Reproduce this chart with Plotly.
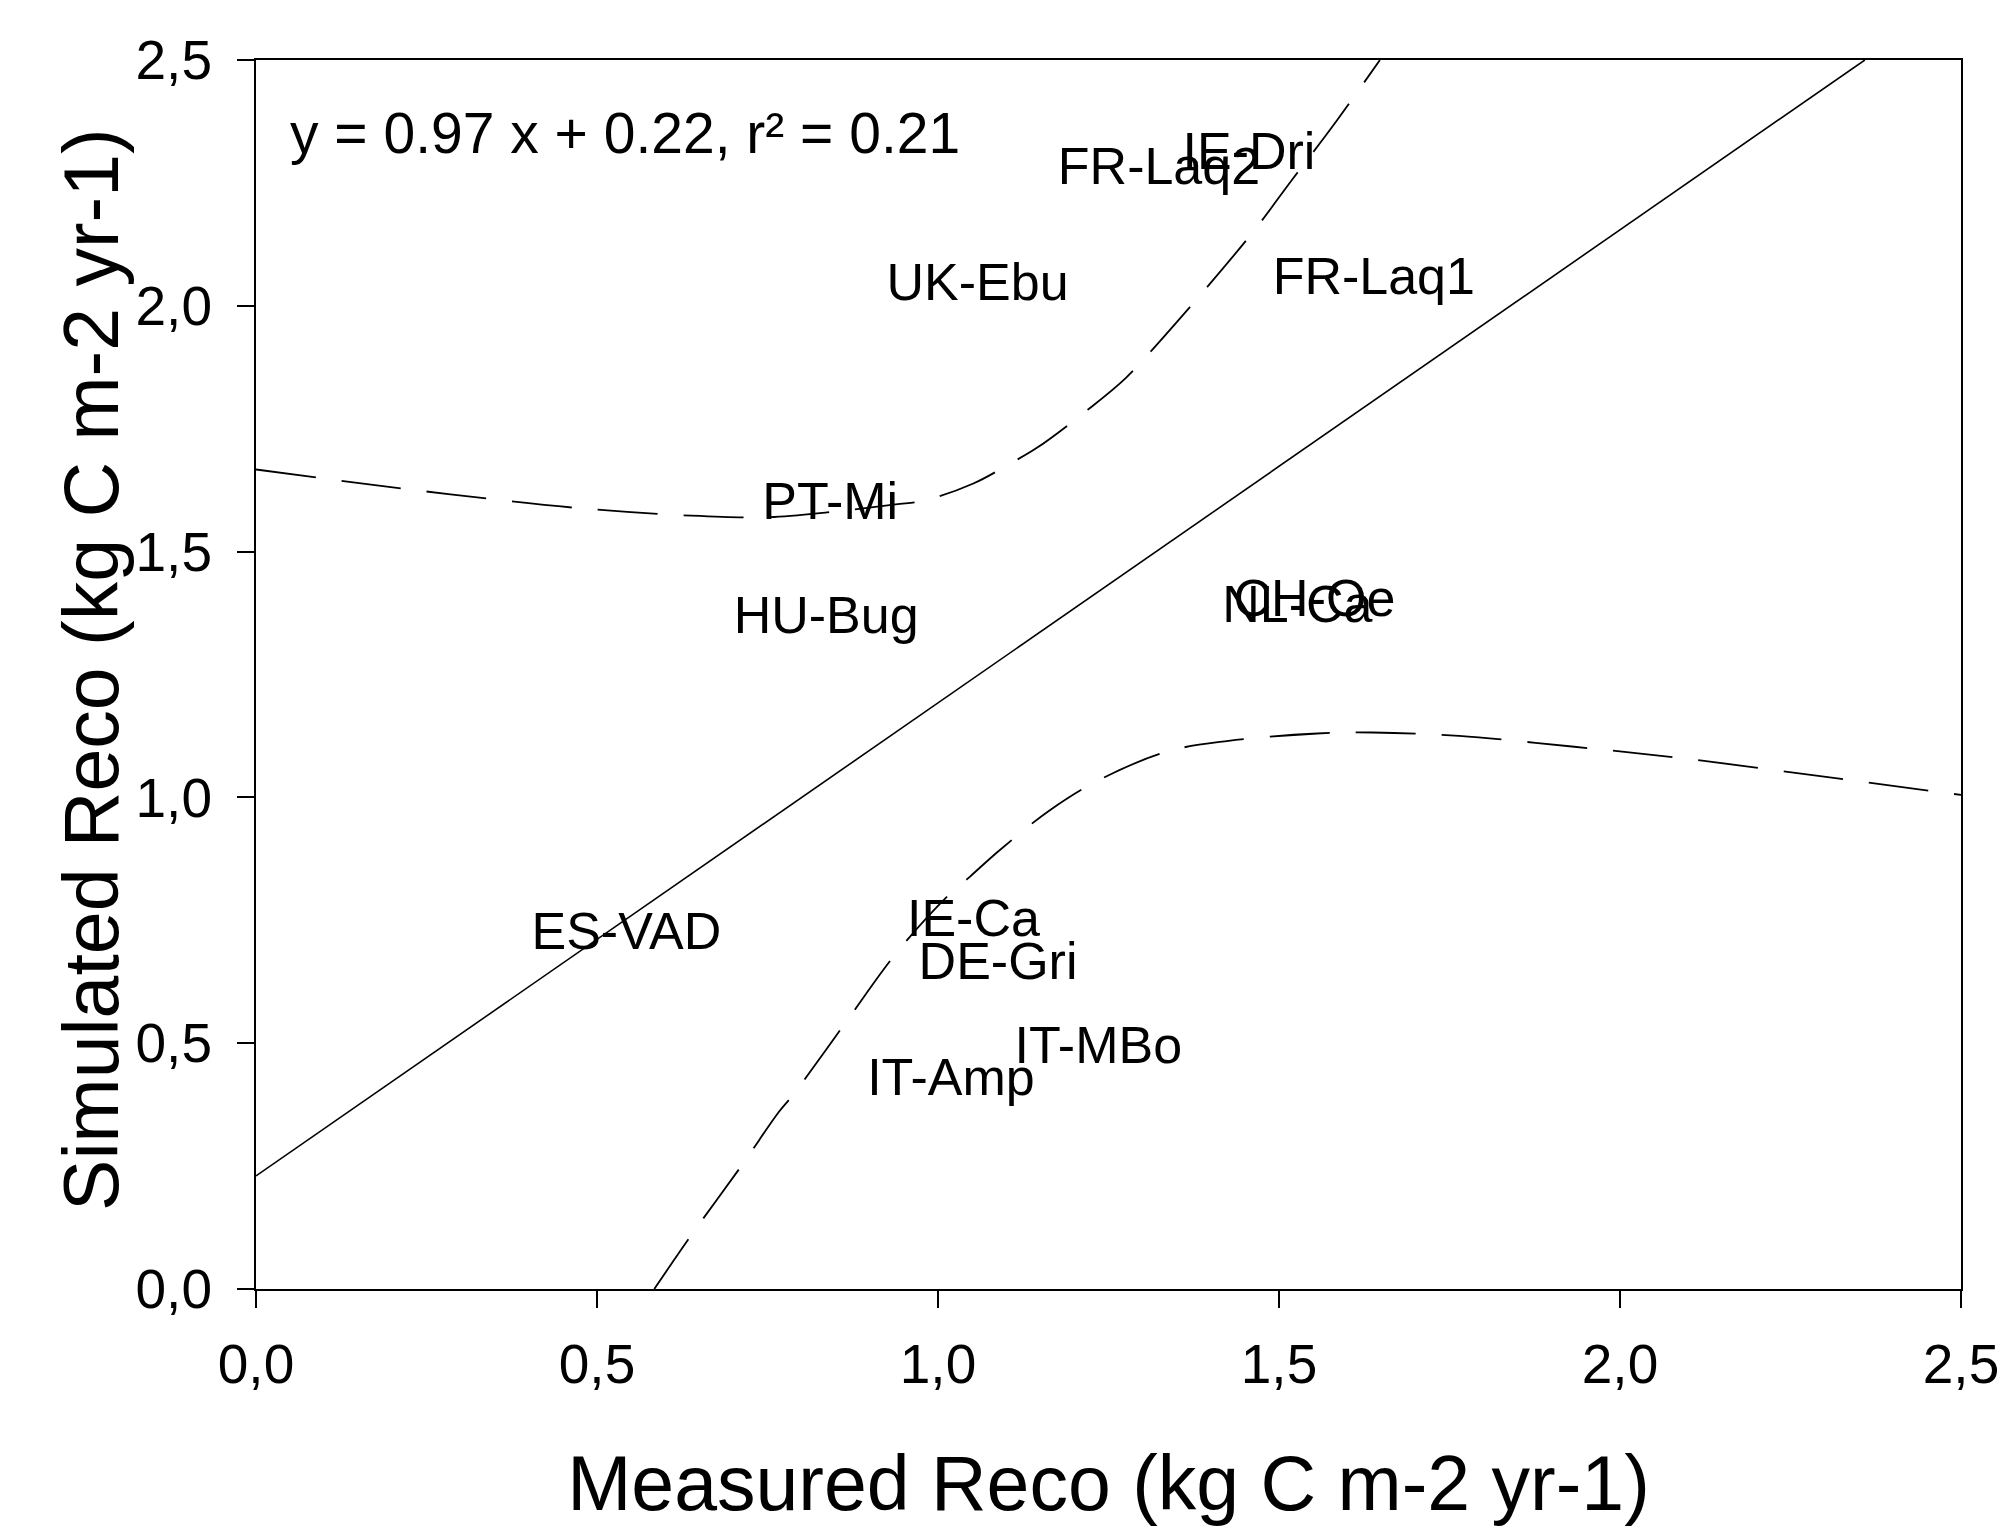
import plotly.graph_objects as go

# --- data ---
sites = ["IE-Dri", "FR-Laq2", "UK-Ebu", "FR-Laq1", "PT-Mi", "HU-Bug", "NL-Ca", "CH-Oe",
         "ES-VAD", "IE-Ca", "DE-Gri", "IT-MBo", "IT-Amp"]
measured = [1.456, 1.324, 1.058, 1.639, 0.842, 0.836, 1.527, 1.552,
            0.543, 1.052, 1.088, 1.235, 1.019]
simulated = [2.305, 2.274, 2.039, 2.050, 1.592, 1.360, 1.383, 1.396,
             0.719, 0.745, 0.657, 0.487, 0.422]

fit_slope = 0.97
fit_intercept = 0.22
fit_r2 = 0.21
# regression line as drawn in the reference (end points)
fit_line_x = [0.0, 2.359]
fit_line_y = [0.23, 2.5]

upper_x = [0.0, 0.131, 0.282, 0.469, 0.638, 0.751, 0.845, 0.938, 0.98, 1.051, 1.107, 1.145,
           1.220, 1.276, 1.333, 1.389, 1.464, 1.520, 1.577, 1.648]
upper_y = [1.667, 1.643, 1.617, 1.589, 1.573, 1.570, 1.581, 1.596, 1.604, 1.638, 1.680, 1.711,
           1.789, 1.854, 1.940, 2.029, 2.154, 2.258, 2.362, 2.5]

lower_x = [0.584, 0.638, 0.713, 0.766, 0.788, 0.863, 0.938, 1.014, 1.047, 1.089, 1.164, 1.237,
           1.338, 1.426, 1.556, 1.637, 1.764, 1.933, 2.102, 2.316, 2.5]
lower_y = [0.0, 0.109, 0.253, 0.359, 0.396, 0.539, 0.682, 0.799, 0.839, 0.891, 0.974, 1.036,
           1.094, 1.115, 1.130, 1.132, 1.125, 1.103, 1.078, 1.039, 1.005]

tick_vals = [0.0, 0.5, 1.0, 1.5, 2.0, 2.5]

FONT = "Liberation Sans, Arial, sans-serif"

fig = go.Figure()

fig.add_trace(go.Scatter(
    x=fit_line_x, y=fit_line_y,
    mode="lines", line=dict(color="black", width=1.6), showlegend=False, hoverinfo="skip"))

fig.add_trace(go.Scatter(
    x=upper_x, y=upper_y, mode="lines", line_shape="spline",
    line=dict(color="black", width=1.8, dash="60px,26px"), showlegend=False, hoverinfo="skip"))
fig.add_trace(go.Scatter(
    x=lower_x, y=lower_y, mode="lines", line_shape="spline",
    line=dict(color="black", width=1.8, dash="60px,26px"), showlegend=False, hoverinfo="skip"))

fig.add_trace(go.Scatter(
    x=measured, y=simulated, mode="text", text=sites, textposition="middle center",
    textfont=dict(family=FONT, size=52, color="black"), showlegend=False, cliponaxis=False))

fig.add_annotation(
    xref="paper", yref="paper", x=0.0188, y=0.941, xanchor="left", yanchor="middle",
    text=f"y = {fit_slope:.2f} x + {fit_intercept:.2f}, r² = {fit_r2:.2f}", showarrow=False,
    font=dict(family=FONT, size=57, color="black"))

# y-axis title
fig.add_annotation(
    xref="paper", yref="paper", x=-0.0968, y=0.5045, xanchor="center", yanchor="middle",
    text="Simulated Reco (kg C m-2 yr-1)", textangle=-90, showarrow=False,
    font=dict(family=FONT, size=77, color="black"))

axis_common = dict(
    range=[0, 2.5], tickvals=tick_vals, tickformat=".1f",
    ticks="outside", ticklen=17, tickwidth=1.5, tickcolor="black",
    showline=True, linecolor="black", linewidth=2, mirror=True,
    showgrid=False, zeroline=False,
    tickfont=dict(family=FONT, size=55, color="black"),
)

fig.update_xaxes(**axis_common, ticklabelstandoff=9,
                 title=dict(text="Measured Reco (kg C m-2 yr-1)",
                            font=dict(family=FONT, size=77, color="black"), standoff=62))
fig.update_yaxes(**axis_common, ticklabelstandoff=14)

fig.update_layout(
    width=2007, height=1530,
    margin=dict(l=248, r=54, t=52, b=249, autoexpand=False),
    paper_bgcolor="white", plot_bgcolor="white",
    separators=", ",
    font=dict(family=FONT, color="black"),
)

fig.write_html("out.html")
